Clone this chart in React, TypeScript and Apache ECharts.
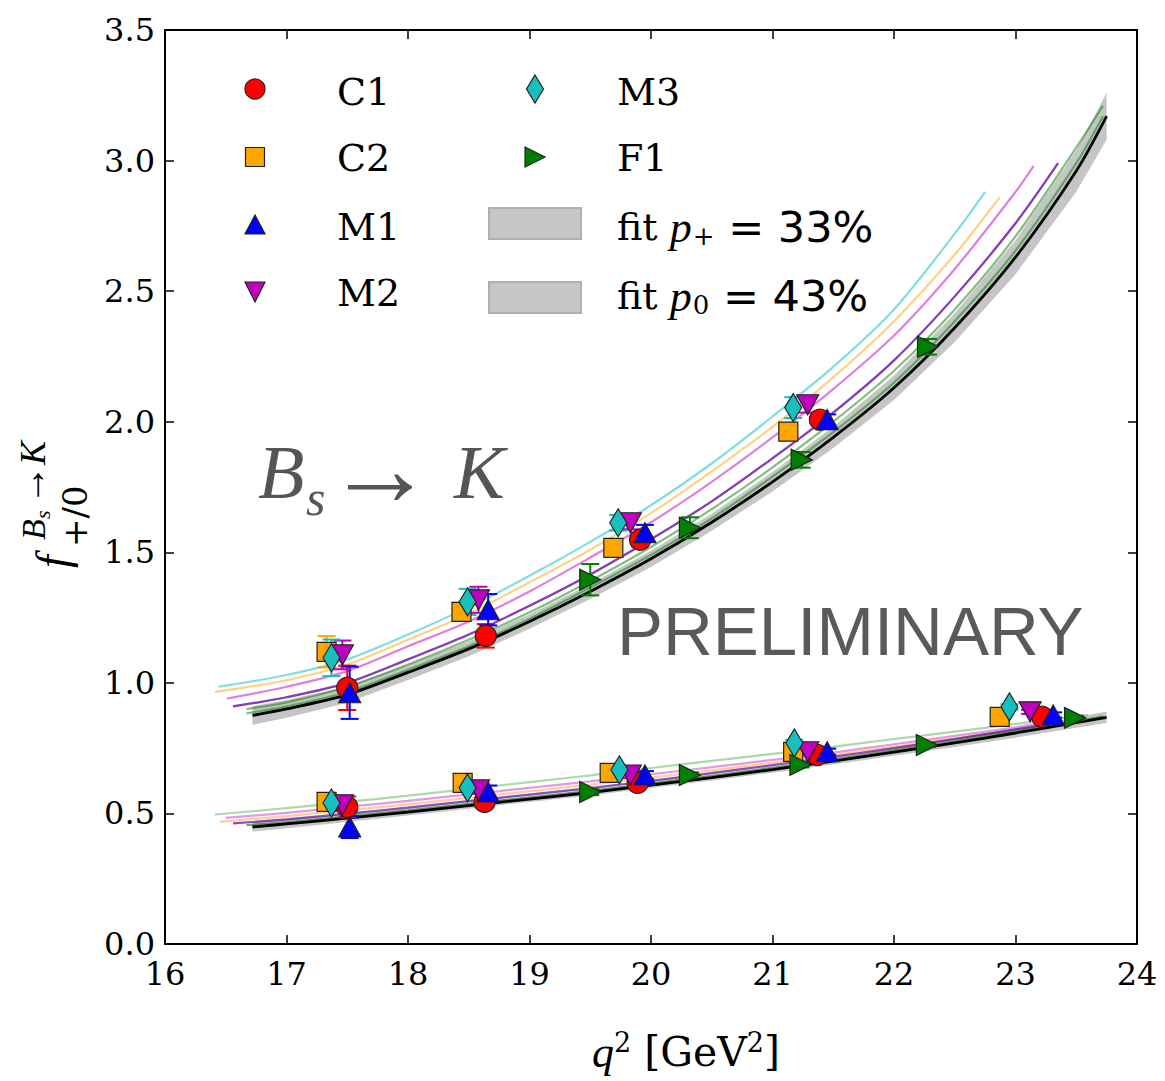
import React, { useEffect, useRef } from 'react';
import * as echarts from 'echarts';

const SERIF = "'DejaVu Serif', serif";
const MATH = "'Liberation Serif', 'DejaVu Serif', serif";
const SANS = "'DejaVu Sans', sans-serif";

// ---------- data points: f+ (upper) ----------
const C1_plus_q = [17.5, 18.64, 19.91, 21.39];
const C1_plus_f = [0.981, 1.18, 1.548, 2.008];
const C1_plus_e = [0.085, 0.045, 0.025, 0.02];
const C2_plus_q = [17.33, 18.44, 19.69, 21.13];
const C2_plus_f = [1.119, 1.272, 1.517, 1.962];
const C2_plus_e = [0.06, 0.035, 0.02, 0.02];
const M1_plus_q = [17.52, 18.66, 19.95, 21.45];
const M1_plus_f = [0.962, 1.28, 1.575, 2.008];
const M1_plus_e = [0.1, 0.06, 0.03, 0.02];
const M2_plus_q = [17.46, 18.58, 19.83, 21.29];
const M2_plus_f = [1.107, 1.318, 1.613, 2.065];
const M2_plus_e = [0.055, 0.05, 0.025, 0.03];
const M3_plus_q = [17.37, 18.49, 19.73, 21.17];
const M3_plus_f = [1.096, 1.31, 1.613, 2.054];
const M3_plus_e = [0.07, 0.05, 0.03, 0.04];
const F1_plus_q = [19.5, 20.32, 21.24, 22.28];
const F1_plus_f = [1.395, 1.594, 1.854, 2.287];
const F1_plus_e = [0.06, 0.04, 0.03, 0.03];

// ---------- data points: f0 (lower) ----------
const C1_zero_q = [17.5, 18.63, 19.89, 21.37, 23.22];
const C1_zero_f = [0.525, 0.544, 0.617, 0.724, 0.87];
const C1_zero_e = [0.04, 0.015, 0.012, 0.01, 0.008];
const C2_zero_q = [17.33, 18.45, 19.66, 21.17, 22.87];
const C2_zero_f = [0.544, 0.617, 0.655, 0.736, 0.87];
const C2_zero_e = [0.015, 0.012, 0.01, 0.01, 0.008];
const M1_zero_q = [17.52, 18.66, 19.95, 21.45, 23.31];
const M1_zero_f = [0.448, 0.582, 0.647, 0.736, 0.877];
const M1_zero_e = [0.042, 0.025, 0.015, 0.012, 0.01];
const M2_zero_q = [17.46, 18.58, 19.83, 21.29, 23.12];
const M2_zero_f = [0.533, 0.59, 0.647, 0.736, 0.889];
const M2_zero_e = [0.02, 0.015, 0.012, 0.01, 0.008];
const M3_zero_q = [17.37, 18.49, 19.74, 21.18, 22.95];
const M3_zero_f = [0.54, 0.598, 0.667, 0.77, 0.908];
const M3_zero_e = [0.015, 0.012, 0.012, 0.012, 0.01];
const F1_zero_q = [19.5, 20.32, 21.23, 22.27, 23.49];
const F1_zero_f = [0.582, 0.647, 0.686, 0.762, 0.866];
const F1_zero_e = [0.012, 0.01, 0.01, 0.008, 0.008];

// ---------- combined fit (black line + grey band) ----------
const fitQ = [16.72, 17.0, 17.5, 18.0, 18.5, 19.0, 19.5, 20.0, 20.5, 21.0, 21.5, 22.0, 22.5, 23.0, 23.5, 23.75];
const fitPlus = [0.875, 0.9, 0.955, 1.04, 1.13, 1.235, 1.35, 1.475, 1.615, 1.77, 1.94, 2.13, 2.36, 2.63, 2.96, 3.17];
const fitPlusErr = [0.036, 0.034, 0.031, 0.029, 0.028, 0.028, 0.029, 0.031, 0.033, 0.037, 0.041, 0.047, 0.055, 0.065, 0.079, 0.09];
const fitZero = [0.448, 0.46, 0.482, 0.505, 0.53, 0.555, 0.58, 0.608, 0.637, 0.668, 0.7, 0.735, 0.77, 0.808, 0.848, 0.868];
const fitZeroErr = [0.018, 0.017, 0.015, 0.013, 0.012, 0.011, 0.011, 0.011, 0.011, 0.012, 0.013, 0.014, 0.016, 0.018, 0.02, 0.022];

// ---------- per-ensemble fit lines, f+ ----------
const lineM3_plus_q = [16.44, 17.0, 17.5, 18.0, 18.5, 19.0, 19.5, 20.0, 20.5, 21.0, 21.5, 22.0, 22.5, 22.75];
const lineM3_plus_f = [0.985, 1.03, 1.09, 1.185, 1.29, 1.41, 1.54, 1.68, 1.84, 2.02, 2.21, 2.43, 2.72, 2.88];
const lineC2_plus_q = [16.41, 17.0, 17.5, 18.0, 18.5, 19.0, 19.5, 20.0, 20.5, 21.0, 21.5, 22.0, 22.5, 22.87];
const lineC2_plus_f = [0.965, 1.01, 1.07, 1.165, 1.265, 1.385, 1.51, 1.65, 1.81, 1.98, 2.17, 2.385, 2.64, 2.86];
const lineM2_plus_q = [16.51, 17.0, 17.5, 18.0, 18.5, 19.0, 19.5, 20.0, 20.5, 21.0, 21.5, 22.0, 22.5, 23.0, 23.15];
const lineM2_plus_f = [0.94, 0.985, 1.045, 1.14, 1.235, 1.35, 1.48, 1.615, 1.77, 1.94, 2.125, 2.33, 2.585, 2.88, 2.98];
const lineC1M1_plus_q = [16.56, 17.0, 17.5, 18.0, 18.5, 19.0, 19.5, 20.0, 20.5, 21.0, 21.5, 22.0, 22.5, 23.0, 23.35];
const lineC1M1_plus_f = [0.91, 0.945, 1.0, 1.09, 1.185, 1.295, 1.415, 1.55, 1.695, 1.86, 2.035, 2.235, 2.48, 2.76, 2.99];
const lineF1_plus_q = [16.67, 17.0, 17.5, 18.0, 18.5, 19.0, 19.5, 20.0, 20.5, 21.0, 21.5, 22.0, 22.5, 23.0, 23.5, 23.72];
const lineF1a_plus_f = [0.9, 0.925, 0.985, 1.07, 1.165, 1.27, 1.39, 1.52, 1.665, 1.825, 2.0, 2.195, 2.43, 2.71, 3.05, 3.21];
const lineF1b_plus_f = [0.883, 0.91, 0.965, 1.05, 1.14, 1.245, 1.365, 1.49, 1.63, 1.79, 1.96, 2.15, 2.385, 2.655, 2.99, 3.17];

// ---------- per-ensemble fit lines, f0 ----------
const lineTop_zero_q = [16.41, 17.0, 17.5, 18.0, 18.5, 19.0, 19.5, 20.0, 20.5, 21.0, 21.5, 22.0, 22.5, 23.0, 23.6];
const lineTop_zero_f = [0.496, 0.52, 0.544, 0.568, 0.594, 0.62, 0.646, 0.674, 0.701, 0.728, 0.755, 0.785, 0.813, 0.843, 0.878];
const lineM2_zero_q = [16.5, 17.0, 17.5, 18.0, 18.5, 19.0, 19.5, 20.0, 20.5, 21.0, 21.5, 22.0, 22.5, 23.0, 23.2];
const lineM2_zero_f = [0.483, 0.502, 0.525, 0.548, 0.573, 0.598, 0.623, 0.65, 0.677, 0.705, 0.733, 0.765, 0.797, 0.83, 0.845];
const lineC2_zero_q = [16.45, 17.0, 17.5, 18.0, 18.5, 19.0, 19.5, 20.0, 20.5, 21.0, 21.5, 22.0, 22.5, 22.87];
const lineC2_zero_f = [0.468, 0.49, 0.512, 0.535, 0.56, 0.585, 0.61, 0.637, 0.665, 0.694, 0.724, 0.756, 0.788, 0.81];
const lineC1M1_zero_q = [16.56, 17.0, 17.5, 18.0, 18.5, 19.0, 19.5, 20.0, 20.5, 21.0, 21.5, 22.0, 22.5, 23.0, 23.35];
const lineC1M1_zero_f = [0.462, 0.477, 0.499, 0.522, 0.547, 0.572, 0.597, 0.625, 0.654, 0.685, 0.717, 0.75, 0.785, 0.822, 0.845];
const lineF1_zero_q = [16.67, 17.0, 17.5, 18.0, 18.5, 19.0, 19.5, 20.0, 20.5, 21.0, 21.5, 22.0, 22.5, 23.0, 23.5, 23.72];
const lineF1_zero_f = [0.455, 0.466, 0.488, 0.511, 0.536, 0.561, 0.586, 0.614, 0.643, 0.674, 0.706, 0.741, 0.776, 0.814, 0.853, 0.872];

// ---------- axis ticks ----------
const xTicks = [16, 17, 18, 19, 20, 21, 22, 23, 24];
const yTicks = [0, 0.5, 1.0, 1.5, 2.0, 2.5, 3.0, 3.5];

const ensembles = [
  { name: 'C1', color: '#ff0000', symbol: 'circle', size: 21, rotate: 0,
    q: [...C1_plus_q, ...C1_zero_q], f: [...C1_plus_f, ...C1_zero_f], e: [...C1_plus_e, ...C1_zero_e] },
  { name: 'C2', color: '#ffa500', symbol: 'rect', size: 19, rotate: 0,
    q: [...C2_plus_q, ...C2_zero_q], f: [...C2_plus_f, ...C2_zero_f], e: [...C2_plus_e, ...C2_zero_e] },
  { name: 'M1', color: '#0000ff', symbol: 'triangle', size: [22, 20], rotate: 0,
    q: [...M1_plus_q, ...M1_zero_q], f: [...M1_plus_f, ...M1_zero_f], e: [...M1_plus_e, ...M1_zero_e] },
  { name: 'M2', color: '#bf00bf', symbol: 'triangle', size: [22, 20], rotate: 180,
    q: [...M2_plus_q, ...M2_zero_q], f: [...M2_plus_f, ...M2_zero_f], e: [...M2_plus_e, ...M2_zero_e] },
  { name: 'M3', color: '#17bfbf', symbol: 'diamond', size: [17, 28], rotate: 0,
    q: [...M3_plus_q, ...M3_zero_q], f: [...M3_plus_f, ...M3_zero_f], e: [...M3_plus_e, ...M3_zero_e] },
  { name: 'F1', color: '#007f00', symbol: 'triangle', size: [21, 21], rotate: -90,
    q: [...F1_plus_q, ...F1_zero_q], f: [...F1_plus_f, ...F1_zero_f], e: [...F1_plus_e, ...F1_zero_e] },
];

function lineSeries(name: string, q: number[], f: number[], color: string, opacity: number, width = 2.2, z = 2) {
  return {
    type: 'line', name, data: q.map((x, i) => [x, f[i]]), showSymbol: false, symbol: 'none',
    smooth: 0.3, lineStyle: { color, width, opacity }, z, silent: true, clip: true,
  };
}

function bandSeries(name: string, q: number[], mid: number[], err: number[]) {
  const data = q.map((x, i) => [x, mid[i] - err[i], mid[i] + err[i]]);
  return {
    type: 'custom', name, data, z: 1, silent: true, clip: true,
    encode: { x: 0, y: [1, 2] },
    renderItem: (params: any, api: any) => {
      if (params.dataIndex !== 0) return null;
      const upper = data.map((d) => api.coord([d[0], d[2]]));
      const lower = data.slice().reverse().map((d) => api.coord([d[0], d[1]]));
      return {
        type: 'polygon',
        shape: { points: upper.concat(lower) },
        style: { fill: 'rgba(140,140,140,0.5)', stroke: 'none' },
      };
    },
  };
}

function errorSeries(ens: any) {
  return {
    type: 'custom', name: ens.name + ' err', z: 4, silent: true,
    data: ens.q.map((x: number, i: number) => [x, ens.f[i], ens.e[i]]),
    encode: { x: 0, y: 1 },
    renderItem: (params: any, api: any) => {
      const x = api.value(0), y = api.value(1), e = api.value(2);
      const top = api.coord([x, y + e]);
      const bot = api.coord([x, y - e]);
      const cap = 9;
      const st = { stroke: ens.color, lineWidth: 2 };
      return {
        type: 'group',
        children: [
          { type: 'line', shape: { x1: top[0], y1: top[1], x2: bot[0], y2: bot[1] }, style: st },
          { type: 'line', shape: { x1: top[0] - cap, y1: top[1], x2: top[0] + cap, y2: top[1] }, style: st },
          { type: 'line', shape: { x1: bot[0] - cap, y1: bot[1], x2: bot[0] + cap, y2: bot[1] }, style: st },
        ],
      };
    },
  };
}

function scatterSeries(ens: any) {
  return {
    type: 'scatter', name: ens.name, z: 5, silent: true,
    data: ens.q.map((x: number, i: number) => [x, ens.f[i]]),
    symbol: ens.symbol, symbolSize: ens.size, symbolRotate: ens.rotate,
    itemStyle: { color: ens.color, borderColor: '#222', borderWidth: 1.2, opacity: 1 },
  };
}

function txt(x: number, y: number, text: string, font: any, extra: any = {}) {
  return {
    type: 'text', x, y, silent: true, z: 100,
    style: {
      text, fill: font.fill || '#000', fontSize: font.size, fontFamily: font.family,
      fontStyle: font.style || 'normal',
      align: font.align || 'left', verticalAlign: 'middle',
      textAlign: font.align || 'left', textVerticalAlign: 'middle',
      ...extra,
    },
  };
}

const legendFont = { size: 38, family: SERIF };

function fitRich(sub: string, pct: string) {
  return {
    text: '{r|fit }{i|p}{s|' + sub + '}{n| = ' + pct + '}',
    align: 'left', verticalAlign: 'middle', textAlign: 'left', textVerticalAlign: 'middle',
    rich: {
      r: { fontFamily: SERIF, fontSize: 38, lineHeight: 44, fill: '#000' },
      i: { fontFamily: MATH, fontStyle: 'italic', fontSize: 44, lineHeight: 44, fill: '#000' },
      s: { fontFamily: SERIF, fontSize: 26, lineHeight: 24, verticalAlign: 'bottom', fill: '#000', padding: [0, 0, 0, 1] },
      n: { fontFamily: SANS, fontSize: 43, lineHeight: 44, fill: '#000' },
    },
  };
}

const graphic: any[] = [
  // legend column 1
  { type: 'circle', shape: { cx: 255, cy: 89, r: 10 }, style: { fill: '#ff0000', stroke: '#222', lineWidth: 1.2 }, z: 100 },
  { type: 'rect', shape: { x: 245.5, y: 147.5, width: 19, height: 19 }, style: { fill: '#ffa500', stroke: '#222', lineWidth: 1.2 }, z: 100 },
  { type: 'polygon', shape: { points: [[245, 234], [265, 234], [255, 215]] }, style: { fill: '#0000ff', stroke: '#222', lineWidth: 1.2 }, z: 100 },
  { type: 'polygon', shape: { points: [[245, 282], [265, 282], [255, 302]] }, style: { fill: '#bf00bf', stroke: '#222', lineWidth: 1.2 }, z: 100 },
  txt(337, 92, 'C1', legendFont),
  txt(337, 158, 'C2', legendFont),
  txt(337, 227, 'M1', legendFont),
  txt(337, 293, 'M2', legendFont),
  // legend column 2
  { type: 'polygon', shape: { points: [[535, 75], [543.5, 89], [535, 103], [526.5, 89]] }, style: { fill: '#17bfbf', stroke: '#222', lineWidth: 1.2 }, z: 100 },
  { type: 'polygon', shape: { points: [[525, 147], [545, 157], [525, 167]] }, style: { fill: '#007f00', stroke: '#222', lineWidth: 1.2 }, z: 100 },
  { type: 'rect', shape: { x: 489, y: 208, width: 92, height: 31 }, style: { fill: '#c6c6c6', stroke: '#b0b0b0', lineWidth: 2 }, z: 100 },
  { type: 'rect', shape: { x: 489, y: 282, width: 92, height: 31 }, style: { fill: '#c6c6c6', stroke: '#b0b0b0', lineWidth: 2 }, z: 100 },
  txt(617, 92, 'M3', legendFont),
  txt(617, 158, 'F1', legendFont),
  { type: 'text', x: 617, y: 227, z: 100, silent: true, style: fitRich('+', '33%') },
  { type: 'text', x: 617, y: 296, z: 100, silent: true, style: fitRich('0', '43%') },
  // B_s -> K annotation
  txt(258, 472, 'B', { size: 76, family: MATH, style: 'italic', fill: '#555' }),
  txt(306, 498, 's', { size: 50, family: MATH, style: 'italic', fill: '#555' }),
  txt(326, 468, '→', { size: 108, family: MATH, fill: '#555' }),
  txt(454, 472, 'K', { size: 76, family: MATH, style: 'italic', fill: '#555' }),
  // PRELIMINARY
  txt(617, 631, 'PRELIMINARY', { size: 69, family: "'Liberation Sans', Arial, sans-serif", fill: '#5a5a5a' }),
  // x axis title
  {
    type: 'text', x: 686, y: 1052, z: 100, silent: true,
    style: {
      text: '{i|q}{s|2}{r| [GeV}{s|2}{r|]}',
      align: 'center', verticalAlign: 'middle', textAlign: 'center', textVerticalAlign: 'middle',
      rich: {
        i: { fontFamily: MATH, fontStyle: 'italic', fontSize: 44, lineHeight: 46, fill: '#000' },
        r: { fontFamily: SERIF, fontSize: 41, lineHeight: 46, fill: '#000' },
        s: { fontFamily: SERIF, fontSize: 27, lineHeight: 26, verticalAlign: 'top', fill: '#000' },
      },
    },
  },
  // y axis title (rotated)
  {
    type: 'group', x: 67, y: 568, rotation: Math.PI / 2, z: 100,
    children: [
      txt(0, -15, 'f', { size: 46, family: MATH, style: 'italic' }),
      txt(28, -34, 'B', { size: 34, family: MATH, style: 'italic' }),
      txt(49, -25, 's', { size: 22, family: MATH, style: 'italic' }),
      txt(63, -36, '→', { size: 40, family: MATH }),
      txt(103, -34, 'K', { size: 36, family: MATH, style: 'italic' }),
      txt(21, 8, '+/0', { size: 34, family: SERIF }),
    ],
  },
];

const axisCommon = {
  type: 'value',
  axisLine: { show: true, onZero: false, lineStyle: { color: '#000', width: 2 } },
  axisTick: { show: true, inside: true, length: 9, lineStyle: { color: '#000', width: 1.5 } },
  splitLine: { show: false },
};

const option: any = {
  animation: false,
  backgroundColor: '#ffffff',
  grid: { left: 165, top: 30, width: 972, height: 914, containLabel: false },
  xAxis: [
    {
      ...axisCommon, position: 'bottom', min: xTicks[0], max: xTicks[xTicks.length - 1], interval: 1,
      axisLabel: { color: '#000', fontSize: 32, fontFamily: SERIF, margin: 14, formatter: (v: number) => String(v) },
    },
    {
      ...axisCommon, position: 'top', min: xTicks[0], max: xTicks[xTicks.length - 1], interval: 1,
      axisLabel: { show: false },
    },
  ],
  yAxis: [
    {
      ...axisCommon, position: 'left', min: yTicks[0], max: yTicks[yTicks.length - 1], interval: 0.5,
      axisLabel: { color: '#000', fontSize: 32, fontFamily: SERIF, margin: 10, formatter: (v: number) => v.toFixed(1) },
    },
    {
      ...axisCommon, position: 'right', min: yTicks[0], max: yTicks[yTicks.length - 1], interval: 0.5,
      axisLabel: { show: false },
    },
  ],
  series: [
    bandSeries('fit f+ band', fitQ, fitPlus, fitPlusErr),
    bandSeries('fit f0 band', fitQ, fitZero, fitZeroErr),
    lineSeries('M3 f+', lineM3_plus_q, lineM3_plus_f, '#00bfbf', 0.5),
    lineSeries('C2 f+', lineC2_plus_q, lineC2_plus_f, '#ffa500', 0.5),
    lineSeries('M2 f+', lineM2_plus_q, lineM2_plus_f, '#bf00bf', 0.5),
    lineSeries('C1 f+', lineC1M1_plus_q, lineC1M1_plus_f, '#ff0000', 0.5),
    lineSeries('M1 f+', lineC1M1_plus_q, lineC1M1_plus_f, '#0000ff', 0.5),
    lineSeries('F1 f+ a', lineF1_plus_q, lineF1a_plus_f, '#007f00', 0.5),
    lineSeries('F1 f+ b', lineF1_plus_q, lineF1b_plus_f, '#007f00', 0.5),
    lineSeries('M3 f0', lineTop_zero_q, lineTop_zero_f, '#2ca02c', 0.4),
    lineSeries('M2 f0', lineM2_zero_q, lineM2_zero_f, '#bf00bf', 0.4),
    lineSeries('C2 f0', lineC2_zero_q, lineC2_zero_f, '#ff7f0e', 0.4),
    lineSeries('C1 f0', lineC1M1_zero_q, lineC1M1_zero_f, '#ff0000', 0.45),
    lineSeries('M1 f0', lineC1M1_zero_q, lineC1M1_zero_f, '#0000ff', 0.45),
    lineSeries('F1 f0', lineF1_zero_q, lineF1_zero_f, '#007f00', 0.6),
    lineSeries('fit f+', fitQ, fitPlus, '#000000', 1, 2.8, 3),
    lineSeries('fit f0', fitQ, fitZero, '#000000', 1, 2.8, 3),
    ...ensembles.map(errorSeries),
    ...ensembles.map(scatterSeries),
  ],
  graphic,
};

export default function App() {
  const ref = useRef<HTMLDivElement>(null);
  useEffect(() => {
    document.body.style.margin = '0';
    const chart = echarts.init(ref.current!, null, { renderer: 'svg' });
    chart.setOption(option);
    return () => chart.dispose();
  }, []);
  return <div ref={ref} style={{ width: 1165, height: 1081, background: '#fff' }} />;
}
